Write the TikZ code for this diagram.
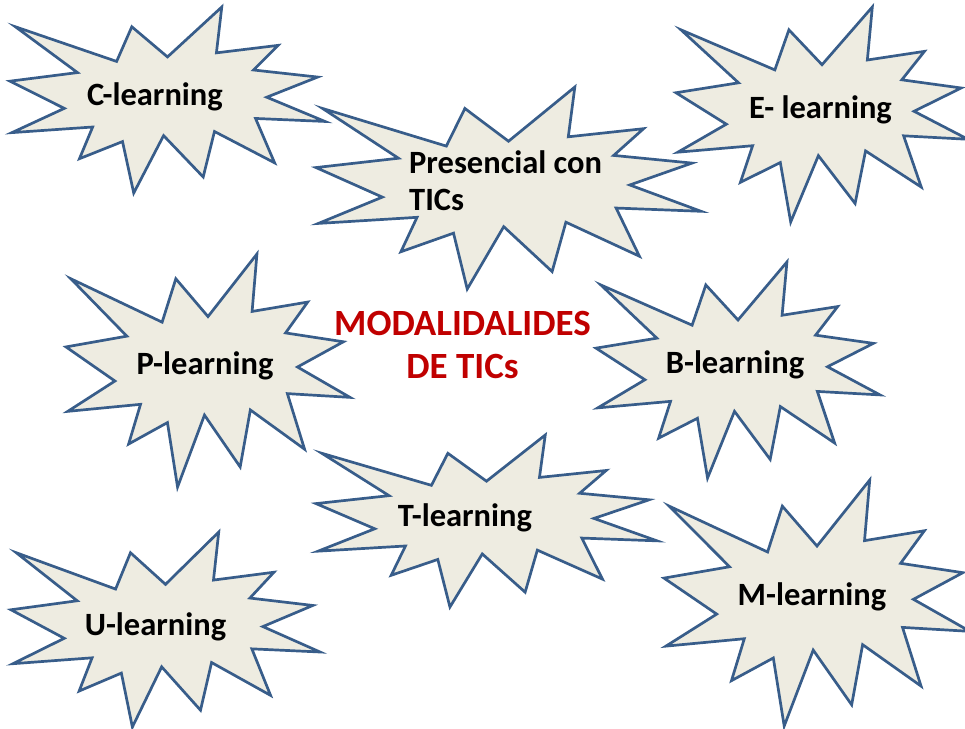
\documentclass[tikz,border=0pt]{standalone}
\usepackage{fontspec}
\setmainfont{Carlito}
\usepackage{tikz}
\usetikzlibrary{positioning}

\definecolor{burstfill}{HTML}{EEECE1}
\definecolor{burstdraw}{HTML}{385D8A}
\definecolor{titlered}{HTML}{C00000}

\tikzset{
  burstline/.style={draw=burstdraw, fill=burstfill, line width=2.7pt, line join=miter},
  burst/.pic={
    \path[burstline] (0.5000,0.2685) -- (0.6723,0) -- (0.6553,0.2465) -- (0.8509,0.2063)
      -- (0.7732,0.3387) -- (0.9767,0.3767) -- (0.8151,0.4850) -- (1,0.6153)
      -- (0.7795,0.5992) -- (0.8400,0.8377) -- (0.6491,0.6693) -- (0.6133,0.9138)
      -- (0.4876,0.6914) -- (0.3928,1) -- (0.3572,0.7235) -- (0.2205,0.8156)
      -- (0.2624,0.6452) -- (0.0063,0.6753) -- (0.1723,0.5451) -- (0,0.3988)
      -- (0.2142,0.3526) -- (0.0171,0.1063) -- (0.3385,0.2926) -- (0.3867,0.1063) -- cycle;
  },
  label/.style={font=\fontsize{32.5}{37}\selectfont\bfseries, inner sep=0pt, text=black},
  titletext/.style={font=\fontsize{37}{43}\selectfont\bfseries, inner sep=0pt, text=titlered, align=center}
}

\begin{document}
\begin{tikzpicture}[x=1pt, y=-1pt]
\useasboundingbox (0,0) rectangle (965,728);
\clip (0,0) rectangle (965,728);

\pic[xscale=315, yscale=186] at (10,7) {burst};
\pic[xscale=385, yscale=202] at (316,87) {burst};
\pic[xscale=292, yscale=215] at (676,7) {burst};
\pic[xscale=284, yscale=233] at (66,254) {burst};
\pic[xscale=284, yscale=216] at (596,262) {burst};
\pic[xscale=341, yscale=172] at (316,435) {burst};
\pic[xscale=309, yscale=195] at (11,532) {burst};
\pic[xscale=306, yscale=246] at (664,480) {burst};

\node[label, anchor=base] (clearn) at (155,105.5) {C-learning};
\node[label, anchor=base west, align=left] (presencial) at (409,210) {Presencial con\\TICs};
\node[label, anchor=base] (elearn) at (820.5,118.3) {E- learning};
\node[label, anchor=base] (plearn) at (205,374.3) {P-learning};
\node[label, anchor=base] (blearn) at (735,373.3) {B-learning};
\node[label, anchor=base] (tlearn) at (465,526.7) {T-learning};
\node[label, anchor=base] (ulearn) at (155.5,635) {U-learning};
\node[label, anchor=base] (mlearn) at (812,605) {M-learning};

\node[titletext, anchor=base] (modal) at (462.5,378) {MODALIDALIDES\\DE TICs};
\end{tikzpicture}
\end{document}
